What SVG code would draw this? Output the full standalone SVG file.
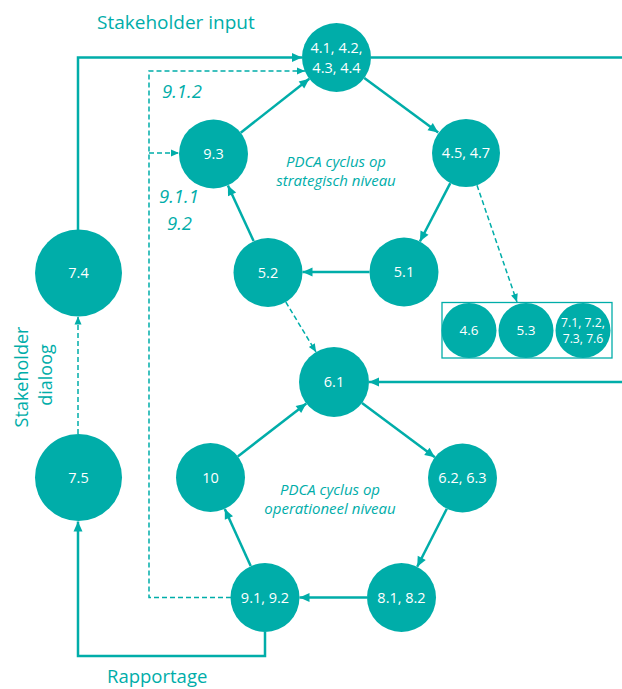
<svg xmlns="http://www.w3.org/2000/svg" width="622" height="689" viewBox="0 0 622 689">
<defs>
<style>
.n{fill:#00ADA9}
.t{fill:#fff;font-family:"Open Sans","Noto Sans",sans-serif;font-size:14.5px;text-anchor:middle}
.ts{fill:#fff;font-family:"Open Sans","Noto Sans",sans-serif;font-size:13.5px;text-anchor:middle}
.tx{fill:#fff;font-family:"Open Sans","Noto Sans",sans-serif;font-size:12.2px;text-anchor:middle}
.lab{fill:#00ADA9;font-family:"Open Sans","Noto Sans",sans-serif;font-size:19px}
.it{fill:#00ADA9;font-family:"Open Sans","Noto Sans",sans-serif;font-style:italic;font-size:18.5px}
.pd{fill:#00ADA9;font-family:"Open Sans","Noto Sans",sans-serif;font-style:italic;font-size:15px;text-anchor:middle}
.s{fill:none;stroke:#00ADA9;stroke-width:2.5}
.d{fill:none;stroke:#00ADA9;stroke-width:1.5;stroke-dasharray:5 3}
</style>
<marker id="a" markerUnits="userSpaceOnUse" markerWidth="12" markerHeight="12" viewBox="0 0 12 12" refX="11" refY="6" orient="auto">
<path d="M1,1.5 L11,6 L1,10.5 Z" fill="#00ADA9"/>
</marker>
<marker id="ad" markerUnits="userSpaceOnUse" markerWidth="10" markerHeight="10" viewBox="0 0 10 10" refX="9" refY="5" orient="auto">
<path d="M1,1.5 L9,5 L1,8.5 Z" fill="#00ADA9"/>
</marker>
</defs>
<rect width="622" height="689" fill="#fff"/>

<g id="connectors">
<path class="s" d="M78,230 V57.5 H302" marker-end="url(#a)"/>
<path class="s" d="M371,57.5 H622"/>
<path class="s" d="M622,382 H369" marker-end="url(#a)"/>
<path class="d" d="M231,597.5 H149 V71 H305" marker-end="url(#ad)"/>
<path class="d" d="M149,153 H179" marker-end="url(#ad)"/>
<path class="s" d="M265,632 V656 H78 V521.5" marker-end="url(#a)"/>
<path class="d" d="M78,434 V316.5" marker-end="url(#ad)"/>
<path class="s" d="M240.7,132.7 L309.3,78.8" marker-end="url(#a)"/>
<path class="s" d="M364.3,78 L438.2,132.5" marker-end="url(#a)"/>
<path class="s" d="M450.3,183.2 L419.9,241.5" marker-end="url(#a)"/>
<path class="s" d="M369.5,272 L302.5,272" marker-end="url(#a)"/>
<path class="s" d="M253.6,241.1 L227.9,185.4" marker-end="url(#a)"/>
<path class="d" d="M477,185.2 L517,302" marker-end="url(#ad)"/>
<path class="d" d="M285.8,302 L316,352" marker-end="url(#ad)"/>
<path class="s" d="M237.8,456.4 L306.3,403.4" marker-end="url(#a)"/>
<path class="s" d="M362,403 L434.9,457.3" marker-end="url(#a)"/>
<path class="s" d="M446.8,508.7 L417.2,566.8" marker-end="url(#a)"/>
<path class="s" d="M367,597.5 L299.5,597.5" marker-end="url(#a)"/>
<path class="s" d="M250.7,566.1 L224.8,508.9" marker-end="url(#a)"/>
</g>

<g id="n41"><circle class="n" cx="336.5" cy="57.5" r="34.5"/><text class="t" x="336.5" y="53">4.1, 4.2,</text><text class="t" x="336.5" y="72.5">4.3, 4.4</text></g>
<g id="n45"><circle class="n" cx="466" cy="153" r="34"/><text class="t" x="466" y="158">4.5, 4.7</text></g>
<g id="n93"><circle class="n" cx="213.5" cy="154" r="34.5"/><text class="t" x="213.5" y="159">9.3</text></g>
<g id="n52"><circle class="n" cx="268" cy="272.5" r="34.5"/><text class="t" x="268" y="277.5">5.2</text></g>
<g id="n51"><circle class="n" cx="404" cy="272" r="34.5"/><text class="t" x="404" y="277">5.1</text></g>
<g id="group">
<rect x="442" y="302.5" width="170" height="55.5" fill="none" stroke="#00ADA9" stroke-width="1.3"/>
<g id="n46"><circle class="n" cx="469" cy="330.5" r="27.5"/><text class="ts" x="469" y="335.3">4.6</text></g>
<g id="n53"><circle class="n" cx="526" cy="330.5" r="27.5"/><text class="ts" x="526" y="335.3">5.3</text></g>
<g id="n71"><circle class="n" cx="583" cy="330.5" r="27.5"/><text class="tx" x="583" y="326.5">7.1, 7.2,</text><text class="tx" x="583" y="343">7.3, 7.6</text></g>
</g>
<g id="n61"><circle class="n" cx="334" cy="382" r="35"/><text class="t" x="334" y="387">6.1</text></g>
<g id="n74"><circle class="n" cx="78.5" cy="273" r="43.5"/><text class="t" x="78.5" y="278">7.4</text></g>
<g id="n75"><circle class="n" cx="78.5" cy="477.5" r="43.5"/><text class="t" x="78.5" y="482.5">7.5</text></g>
<g id="n10"><circle class="n" cx="210.5" cy="477.5" r="34.5"/><text class="t" x="210.5" y="482.5">10</text></g>
<g id="n91"><circle class="n" cx="265" cy="597.5" r="34.5"/><text class="t" x="265" y="602.5">9.1, 9.2</text></g>
<g id="n62"><circle class="n" cx="462.5" cy="478" r="34.5"/><text class="t" x="462.5" y="483">6.2, 6.3</text></g>
<g id="n81"><circle class="n" cx="401.5" cy="597.5" r="34.5"/><text class="t" x="401.5" y="602.5">8.1, 8.2</text></g>

<g id="labels">
<text class="lab" x="97" y="29">Stakeholder input</text>
<text class="lab" x="107" y="683" style="font-size:18.5px">Rapportage</text>
<text class="lab" transform="translate(28,377) rotate(-90)" text-anchor="middle" style="font-size:18px">Stakeholder</text>
<text class="lab" transform="translate(52,375) rotate(-90)" text-anchor="middle" style="font-size:18px">dialoog</text>
<text class="it" x="162" y="98">9.1.2</text>
<text class="it" x="159" y="203">9.1.1</text>
<text class="it" x="167" y="230">9.2</text>
<text class="pd" x="336" y="167">PDCA cyclus op</text>
<text class="pd" x="336" y="186">strategisch niveau</text>
<text class="pd" x="330" y="495">PDCA cyclus op</text>
<text class="pd" x="330" y="514">operationeel niveau</text>
</g>
</svg>
